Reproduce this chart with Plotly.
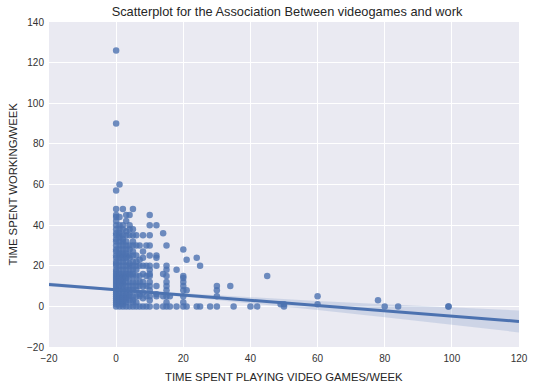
import plotly.graph_objects as go

# ---- data ----
games_0 = [0] * 40
work_0 = [126, 90, 57, 48, 45, 44, 42, 40, 38, 36, 35, 33, 32, 30, 28, 27, 25, 24, 22, 20,
          18, 16, 15, 14, 12, 10, 9, 8, 7, 6, 5, 4, 3, 2, 1, 0, 11, 13, 17, 21]
games_1 = [1] * 30
work_1 = [60, 44, 40, 38, 36, 35, 32, 30, 28, 25, 24, 22, 20, 18, 16, 15, 14, 12, 10, 8,
          6, 5, 4, 3, 2, 1, 0, 11, 26, 34]
games_2 = [2] * 29
work_2 = [48, 40, 38, 35, 32, 30, 28, 26, 25, 24, 22, 20, 18, 16, 15, 14, 12, 10, 8, 6,
          5, 4, 3, 2, 1, 0, 11, 13, 33]
games_3 = [3] * 25
work_3 = [45, 42, 37, 35, 32, 30, 28, 25, 24, 22, 20, 18, 16, 15, 14, 12, 10, 8, 6, 5,
          4, 2, 0, 26, 3]
games_4 = [4] * 20
work_4 = [45, 40, 35, 30, 28, 25, 24, 21, 20, 18, 16, 15, 12, 10, 8, 6, 5, 3, 0, 38]
games_5 = [5] * 19
work_5 = [48, 38, 35, 32, 30, 27, 25, 22, 20, 16, 15, 12, 10, 8, 5, 3, 0, 18, 2]
games_6 = [6] * 13
work_6 = [35, 30, 25, 20, 18, 15, 12, 10, 8, 5, 2, 0, 22]
games_7 = [7] * 9
work_7 = [30, 23, 20, 15, 10, 6, 5, 0, 12]
games_8 = [8] * 10
work_8 = [35, 27, 20, 16, 12, 10, 7, 4, 0, 24]
games_9 = [9] * 6
work_9 = [30, 20, 15, 10, 5, 0]
games_10 = [10] * 15
work_10 = [45, 40, 35, 30, 25, 20, 18, 16, 15, 12, 10, 8, 5, 3, 0]
games_more = [12, 12, 12, 12, 12, 12, 12, 12, 14, 14, 14, 14,
              15, 15, 15, 15, 15, 15, 15, 15, 15, 15, 16, 16, 18, 18,
              20, 20, 20, 20, 20, 20, 20, 20, 20, 21, 21, 21, 24, 24, 25, 25, 28,
              30, 30, 30, 30, 34, 35, 40, 42, 45, 49, 50, 50, 60, 60, 78, 80, 84, 99, 99]
work_more = [40, 25, 24, 20, 10, 6, 5, 0, 36, 16, 5, 0,
             30, 20, 18, 15, 12, 10, 8, 5, 2, 0, 5, 0, 18, 0,
             28, 15, 14, 12, 10, 8, 5, 2, 0, 23, 8, 0, 24, 0, 20, 0, 0,
             10, 8, 5, 0, 10, 0, 0, 0, 15, 1, 1, 0, 5, 1, 3, 0, 0, 0, 0]

games = (games_0 + games_1 + games_2 + games_3 + games_4 + games_5 + games_6 +
         games_7 + games_8 + games_9 + games_10 + games_more)
work = (work_0 + work_1 + work_2 + work_3 + work_4 + work_5 + work_6 +
        work_7 + work_8 + work_9 + work_10 + work_more)

# regression line and 95% CI band
reg_x = [-20, 0, 20, 40, 60, 80, 100, 120]
reg_y = [10.8, 8.2, 5.6, 3.0, 0.4, -2.2, -4.8, -7.4]
ci_half = [1.0, 0.6, 0.9, 1.5, 2.2, 3.2, 4.2, 5.4]
ci_hi = [y + h for y, h in zip(reg_y, ci_half)]
ci_lo = [y - h for y, h in zip(reg_y, ci_half)]

BLUE = "#4C72B0"
FONT = "Liberation Sans, Arial, sans-serif"

fig = go.Figure()
fig.add_trace(go.Scatter(x=games, y=work, mode="markers",
                         marker=dict(color=BLUE, size=6.5, opacity=0.8, line=dict(width=0)),
                         hoverinfo="x+y", showlegend=False))
fig.add_trace(go.Scatter(x=reg_x, y=ci_hi, mode="lines", line=dict(width=0),
                         hoverinfo="skip", showlegend=False))
fig.add_trace(go.Scatter(x=reg_x, y=ci_lo, mode="lines", line=dict(width=0),
                         fill="tonexty", fillcolor="rgba(76,114,176,0.18)",
                         hoverinfo="skip", showlegend=False))
fig.add_trace(go.Scatter(x=reg_x, y=reg_y, mode="lines",
                         line=dict(color=BLUE, width=3), showlegend=False))

axis_common = dict(showgrid=True, gridcolor="white", gridwidth=1, zeroline=False,
                   showline=False, ticks="", tickfont=dict(family=FONT, size=10, color="#333333"),
                   dtick=20)
fig.update_xaxes(range=[-20, 120], tick0=-20, ticklabelstandoff=4, **axis_common)
fig.update_yaxes(range=[-20, 140], tick0=-20, ticklabelstandoff=4, **axis_common)

fig.update_layout(
    width=540, height=389,
    margin=dict(l=49, r=15, t=22, b=42),
    paper_bgcolor="white", plot_bgcolor="#EAEAF2",
    font=dict(family=FONT, color="#262626"),
    title=dict(text="Scatterplot for the Association Between videogames and work",
               x=0.5315, xanchor="center", y=1 - 12 / 389, yanchor="middle", yref="container",
               font=dict(size=12.8, color="#262626")),
    annotations=[
        dict(text="TIME SPENT PLAYING VIDEO GAMES/WEEK", xref="paper", yref="paper",
             x=0.5, y=0, yshift=-30, xanchor="center", yanchor="middle", showarrow=False,
             font=dict(size=11.3, color="#262626")),
        dict(text="TIME SPENT WORKING/WEEK", xref="paper", yref="paper",
             x=0, y=0.5, xshift=-37, xanchor="center", yanchor="middle", textangle=-90,
             showarrow=False, font=dict(size=11.3, color="#262626")),
    ],
)

fig.write_html("out.html", config={"displayModeBar": False},
               post_script="document.body.style.margin='0';")
